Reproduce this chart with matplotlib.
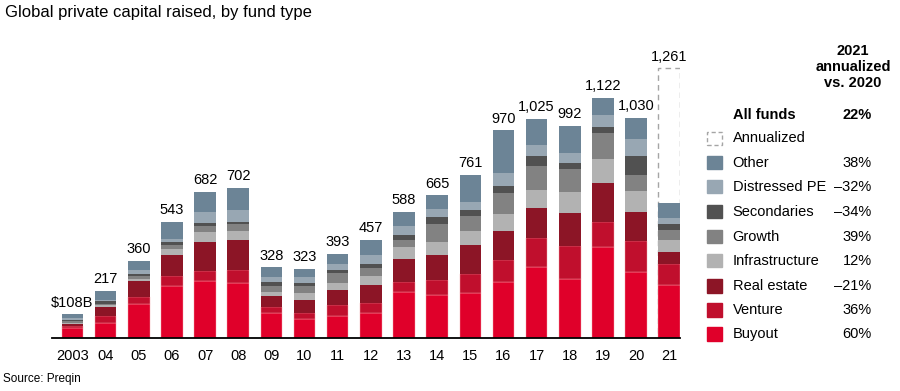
import numpy as np
import matplotlib
matplotlib.use('Agg')
import matplotlib.pyplot as plt
from matplotlib.patches import Rectangle

plt.rcParams['font.family'] = ['Liberation Sans', 'DejaVu Sans']

years = ['2003', '04', '05', '06', '07', '08', '09', '10', '11', '12',
         '13', '14', '15', '16', '17', '18', '19', '20', '21']

# $B raised, bottom to top of each stack (2021 = first half, actual)
buyout = [46, 67, 155, 242, 266, 257, 114, 88, 100, 114, 213, 198, 210, 260, 328, 273, 425, 306, 245]
venture = [9, 34, 36, 47, 47, 58, 31, 28, 52, 47, 45, 71, 89, 105, 138, 157, 116, 147, 100]
real_estate = [9, 41, 74, 96, 136, 141, 49, 58, 71, 86, 111, 116, 136, 135, 139, 154, 183, 136, 54]
infrastructure = [5, 8, 11, 30, 47, 42, 17, 33, 30, 39, 53, 60, 66, 78, 86, 99, 110, 99, 56]
growth = [6, 8, 13, 17, 28, 33, 28, 34, 50, 38, 36, 85, 69, 100, 113, 105, 125, 71, 49]
secondaries = [5, 11, 9, 16, 13, 11, 20, 13, 11, 22, 24, 33, 25, 31, 44, 28, 27, 89, 29]
distressed = [11, 8, 19, 14, 53, 55, 22, 27, 30, 42, 39, 39, 38, 60, 55, 47, 55, 80, 27]
other = [17, 40, 43, 81, 92, 105, 47, 42, 49, 69, 67, 63, 128, 201, 122, 129, 81, 102, 70]

annualized_2021 = 1261

names = ['Buyout', 'Venture', 'Real estate', 'Infrastructure', 'Growth',
         'Secondaries', 'Distressed PE', 'Other']
changes = ['60%', '36%', '\u201321%', '12%', '39%', '\u201334%', '\u201332%', '38%']
colors = ['#E0002A', '#C00F2D', '#8C1526', '#B2B2B2', '#828282',
          '#515151', '#98A7B3', '#6C8496']

series = [buyout, venture, real_estate, infrastructure, growth,
          secondaries, distressed, other]

W, H = 900, 391
fig = plt.figure(figsize=(9, 3.91), dpi=100)

def fx(px):
    return px / W

def fy(py):
    return 1 - py / H

# axes placed so that baseline sits at y=337.5px
ax = fig.add_axes([fx(51.7), fy(337.5), fx(680) - fx(51.7), fy(59.9) - fy(337.5)])
x = np.arange(len(years))
width = 0.65

totals = np.sum(series, axis=0)

# annualized outline for 2021 (dashed)
ax.bar(x[-1], annualized_2021, width=width, fill=False, edgecolor='#a5a5a5',
       linestyle=(0, (4, 3)), linewidth=1, zorder=1)

bottom = np.zeros(len(years))
for i, (vals, c) in enumerate(zip(series, colors)):
    lw = 0.3 if i < 2 else 0
    ax.bar(x, vals, width=width, bottom=bottom, color=c, edgecolor='#f4a0a8',
           linewidth=lw, zorder=2)
    bottom += np.array(vals)

# total labels
labels = ['$108B'] + [f'{int(v):,}' for v in totals[1:-1]]
for i, lab in enumerate(labels):
    ax.annotate(lab, (x[i], totals[i]), xytext=(0, 8.5), textcoords='offset points',
                ha='center', va='center', fontsize=10.5)
ax.annotate(f'{annualized_2021:,}', (x[-1], annualized_2021), xytext=(0, 8),
            textcoords='offset points', ha='center', va='center', fontsize=10.5)

ax.set_xlim(-0.627, 18.325)
ax.set_ylim(0, 1300)
for s in ['top', 'right', 'left']:
    ax.spines[s].set_visible(False)
ax.spines['bottom'].set_linewidth(1.3)
ax.set_yticks([])
ax.set_xticks(x)
ax.set_xticklabels(years, fontsize=10.5)
ax.tick_params(axis='x', length=0, pad=8)

fig.text(fx(5), fy(12), 'Global private capital raised, by fund type',
         fontsize=12, ha='left', va='center')
fig.text(fx(3), fy(379), 'Source: Preqin', fontsize=8.5, ha='left', va='center')

# legend block
fig.text(fx(853), fy(67), '2021\nannualized\nvs. 2020', fontsize=10.5,
         fontweight='bold', ha='center', va='center', linespacing=1.2)
fig.text(fx(732.7), fy(115), 'All funds', fontsize=10.5, fontweight='bold',
         ha='left', va='center')
fig.text(fx(871.7), fy(115), '22%', fontsize=10.5, fontweight='bold',
         ha='right', va='center')

sw, sh = 15, 13.5
row_y = [334, 310, 286, 260.7, 236.7, 211.7, 186.7, 162.7]
fig.patches.append(Rectangle((fx(707.3), fy(138.3 + sh / 2)), fx(sw), sh / H,
                             transform=fig.transFigure, fill=False,
                             edgecolor='#a5a5a5', linestyle=(0, (3, 2)), linewidth=1))
fig.text(fx(732.7), fy(138.3), 'Annualized', fontsize=10.5, ha='left', va='center')
for name, c, ch, yy in zip(names, colors, changes, row_y):
    fig.patches.append(Rectangle((fx(707.3), fy(yy + sh / 2)), fx(sw), sh / H,
                                 transform=fig.transFigure, color=c))
    fig.text(fx(732.7), fy(yy), name, fontsize=10.5, ha='left', va='center')
    fig.text(fx(871.7), fy(yy), ch, fontsize=10.5, ha='right', va='center')

fig.savefig('out.png', dpi=100)
